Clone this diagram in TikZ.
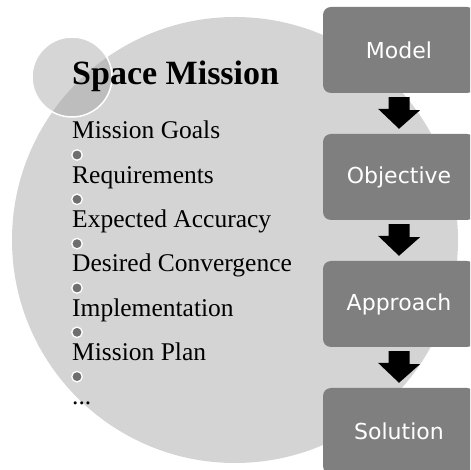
\documentclass[tikz,border=0pt]{standalone}
\usepackage{fontspec}
\usepackage{tikz}
\usetikzlibrary{calc}
\newfontfamily\listface{Liberation Serif}
\newfontfamily\stageface{DejaVu Sans}
\definecolor{discgray}{HTML}{D4D4D4}
\definecolor{stagegray}{HTML}{7F7F7F}
\definecolor{dotgray}{HTML}{6E6E6E}
\tikzset{
  stagebox/.style={rectangle, rounded corners=8pt, fill=stagegray, text=white,
    minimum width=152pt, minimum height=86pt, font=\stageface\fontsize{22}{26}\selectfont},
  listitem/.style={anchor=base west, inner sep=0pt, font=\listface\fontsize{25.5}{30}\selectfont},
  listdot/.style={circle, fill=dotgray, draw=white, line width=1.3pt, minimum size=10.5pt, inner sep=0pt},
}

\begin{document}
\begin{tikzpicture}[x=1pt,y=1pt]
	  \useasboundingbox (0,0) rectangle (470,470);
	  \clip (0,0) rectangle (470,470);
	  \fill [discgray] (235,230) circle (223);
	  \draw [white, line width=1.5pt, fill=black!36, fill opacity=0.45] (72,393) circle (40);
	  \node [listitem, font=\listface\bfseries\fontsize{34}{40}\selectfont] (title) at (72,385) {Space Mission};
	  \foreach \txt [count=\i] in {Mission Goals, Requirements, Expected Accuracy, Desired Convergence, Implementation, Mission Plan}
	    \node [listitem] (item\i) at (72, 331-44.33*\i+44.33) {\txt};
	  \node [listitem] (item7) at (72, 65) {...};
	  \foreach \i in {1,...,6}
	    \node [listdot] (dot\i) at ($(item\i.base west)+(5,-16)$) {};
	  \node [stagebox] (model) at (399,420) {Model};
	  \node [stagebox] (objective) at (399,293) {Objective};
	  \node [stagebox] (approach) at (399,166) {Approach};
	  \node [stagebox] (solution) at (399,39) {Solution};
	  \foreach \a/\b in {model/objective, objective/approach, approach/solution}
	    \fill ($(\a.south)+(-10.5,-4)$) -- ++(21,0) -- ++(0,-13) -- ++(10.5,0)
	      -- ($(\b.north)+(0,5)$) -- ++(-21,20) -- ++(10.5,0) -- cycle;
	 \end{tikzpicture}
\end{document}
